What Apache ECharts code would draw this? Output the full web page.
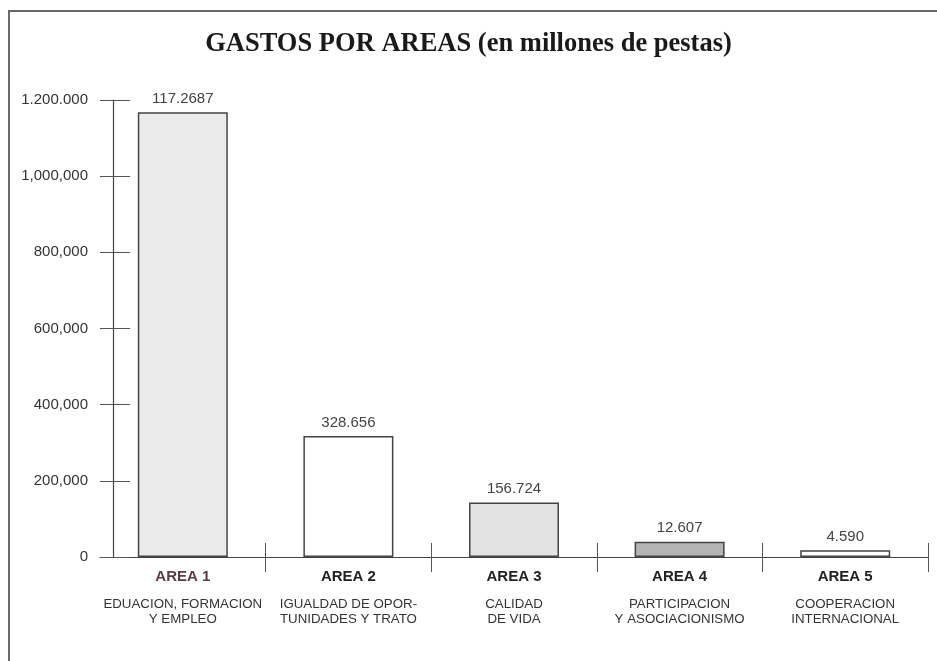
<!DOCTYPE html>
<html>
<head>
<meta charset="utf-8">
<script src="https://cdn.jsdelivr.net/npm/echarts@6/dist/echarts.min.js"></script>
<style>
  html, body { margin: 0; padding: 0; background: #fff; }
  #frame {
    position: absolute; left: 8px; top: 10px; width: 929px; height: 651px;
    border-top: 2px solid #6a6a6a; border-left: 2px solid #6a6a6a;
    box-sizing: border-box;
  }
  #chart { position: absolute; left: 0; top: 0; width: 937px; height: 661px; }
</style>
</head>
<body>
<div id="frame"></div>
<div id="chart"></div>
<script>
// areas on the x axis and the two caption lines under each one
var areas = ['AREA 1', 'AREA 2', 'AREA 3', 'AREA 4', 'AREA 5']
var captions = [
  ['EDUACION, FORMACION', 'Y EMPLEO'],
  ['IGUALDAD DE OPOR-', 'TUNIDADES Y TRATO'],
  ['CALIDAD', 'DE VIDA'],
  ['PARTICIPACION', 'Y ASOCIACIONISMO'],
  ['COOPERACION', 'INTERNACIONAL']
]
// bar heights as drawn, and the numbers printed over them
var gastos = [1168000, 318000, 143000, 40000, 18000]
var barLabels = ['117.2687', '328.656', '156.724', '12.607', '4.590']
var barColors = ['#ebebeb', '#ffffff', '#e3e3e3', '#b4b4b4', '#ffffff']
var yTicks = ['0', '200,000', '400,000', '600,000', '800,000', '1,000,000', '1.200.000']

var chart = echarts.init(document.getElementById('chart'))

var yBase = {
  type: 'value',
  min: 0,
  max: 1200000,
  interval: 200000,
  position: 'left',
  offset: -13,
  splitLine: { show: false }
}

// no boundary tick at the far left, the y axis stands there instead
function skipFirst(index) {
  return index !== 0
}

chart.setOption({
  animation: false,
  backgroundColor: 'transparent',
  title: {
    text: 'GASTOS POR AREAS (en millones de pestas)',
    left: 'center',
    top: 26,
    textStyle: {
      fontFamily: 'Liberation Serif',
      fontWeight: 'bold',
      fontSize: 26.5,
      color: '#1a1a1a'
    }
  },
  grid: {
    left: 100,
    right: 9,
    top: 100,
    bottom: 104
  },
  xAxis: [
    {
      type: 'category',
      data: areas,
      axisLine: { lineStyle: { color: '#444', width: 1.2 } },
      axisTick: {
        show: true,
        interval: skipFirst,
        length: 15,
        lineStyle: { color: '#555' }
      },
      axisLabel: {
        margin: 10,
        interval: 0,
        formatter: function (value, index) {
          var style = index === 0 ? 'a1' : 'a'
          return '{' + style + '|' + value + '}\n{g| }\n{b|' + captions[index][0] + '}\n{b|' + captions[index][1] + '}'
        },
        rich: {
          a: { fontFamily: 'Liberation Sans', fontWeight: 'bold', fontSize: 15, lineHeight: 20, color: '#222' },
          a1: { fontFamily: 'Liberation Sans', fontWeight: 'bold', fontSize: 15, lineHeight: 20, color: '#5b3b45' },
          g: { fontSize: 8, lineHeight: 10 },
          b: { fontFamily: 'Liberation Sans', fontSize: 13.3, lineHeight: 15, color: '#333' }
        }
      }
    },
    {
      type: 'category',
      data: areas,
      position: 'bottom',
      axisLine: { show: false },
      axisTick: {
        show: true,
        interval: skipFirst,
        inside: true,
        length: 14,
        lineStyle: { color: '#555' }
      },
      axisLabel: { show: false }
    }
  ],
  yAxis: [
    Object.assign({}, yBase, {
      axisLine: { show: true, lineStyle: { color: '#444', width: 1.2 } },
      axisTick: { show: true, length: 13, lineStyle: { color: '#555' } },
      axisLabel: {
        margin: 25,
        fontFamily: 'Liberation Sans',
        fontSize: 15,
        color: '#333',
        formatter: function (value) {
          return yTicks[Math.round(value / 200000)]
        }
      }
    }),
    Object.assign({}, yBase, {
      axisLine: { show: false },
      axisTick: { show: true, inside: true, length: 17, lineStyle: { color: '#555' } },
      axisLabel: { show: false }
    })
  ],
  series: [
    {
      type: 'bar',
      xAxisIndex: 0,
      yAxisIndex: 0,
      barWidth: 90,
      data: gastos.map(function (v, i) {
        return {
          value: v,
          itemStyle: { color: barColors[i], borderColor: '#444', borderWidth: 1.5 }
        }
      }),
      label: {
        show: true,
        position: 'top',
        distance: 6,
        fontFamily: 'Liberation Sans',
        fontSize: 15,
        color: '#444',
        formatter: function (p) { return barLabels[p.dataIndex] }
      }
    }
  ]
})
</script>
</body>
</html>
